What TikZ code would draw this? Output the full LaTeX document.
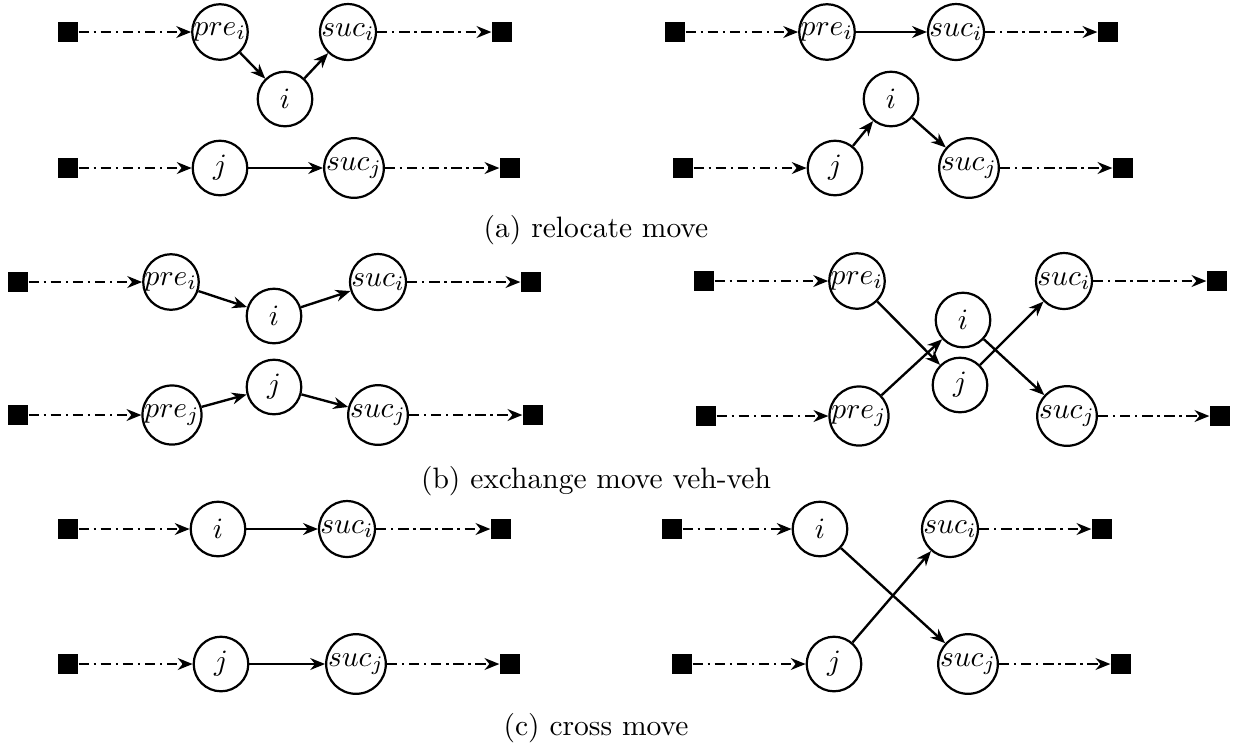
\documentclass[tikz,border=0pt]{standalone}
\usetikzlibrary{arrows.meta}
\begin{document}
\begin{tikzpicture}[x=0.339pt,y=-0.339pt,
  nd/.style={circle, draw, line width=0.75pt, minimum size=18.5pt, inner sep=0pt},
  sq/.style={rectangle, fill=black, minimum size=6.8pt, inner sep=0pt},
  tipstyle/.style={-{Stealth[length=5pt,width=4pt,inset=1.6pt]}},
  dd/.style={tipstyle, line width=0.8pt, dash pattern=on 3.5pt off 1.6pt on 0.8pt off 1.6pt},
  ar/.style={tipstyle, line width=0.8pt},
  captxt/.style={inner sep=0pt}]
\useasboundingbox (0,0) rectangle (1243,749);

% ---------- (a) left ----------
\node[sq] (aLs1) at (68,32) {};
\node[nd] (aLpi) at (220,32) {$pre_i$};
\node[nd] (aLi) at (285,99) {$i$};
\node[nd] (aLsi) at (348,32) {$suc_i$};
\node[sq] (aLt1) at (502,32) {};
\node[sq] (aLs2) at (68,168) {};
\node[nd] (aLj) at (220,168) {$j$};
\node[nd] (aLsj) at (354,168) {$suc_j$};
\node[sq] (aLt2) at (510,168) {};
\draw[dd] (aLs1) -- (aLpi);
\draw[ar] (aLpi) -- (aLi);
\draw[ar] (aLi) -- (aLsi);
\draw[dd] (aLsi) -- (aLt1);
\draw[dd] (aLs2) -- (aLj);
\draw[ar] (aLj) -- (aLsj);
\draw[dd] (aLsj) -- (aLt2);

% ---------- (a) right ----------
\node[sq] (aRs1) at (675,32) {};
\node[nd] (aRpi) at (827,32) {$pre_i$};
\node[nd] (aRsi) at (956,32) {$suc_i$};
\node[sq] (aRt1) at (1108,32) {};
\node[sq] (aRs2) at (683,168) {};
\node[nd] (aRj) at (835,168) {$j$};
\node[nd] (aRi) at (891,99) {$i$};
\node[nd] (aRsj) at (969,168) {$suc_j$};
\node[sq] (aRt2) at (1123,168) {};
\draw[dd] (aRs1) -- (aRpi);
\draw[ar] (aRpi) -- (aRsi);
\draw[dd] (aRsi) -- (aRt1);
\draw[dd] (aRs2) -- (aRj);
\draw[ar] (aRj) -- (aRi);
\draw[ar] (aRi) -- (aRsj);
\draw[dd] (aRsj) -- (aRt2);

\node[captxt] (capa) at (596,230) {(a) relocate move};

% ---------- (b) left ----------
\node[sq] (bLs1) at (18,282) {};
\node[nd] (bLpi) at (171,282) {$pre_i$};
\node[nd] (bLi) at (274,316) {$i$};
\node[nd] (bLsi) at (378,282) {$suc_i$};
\node[sq] (bLt1) at (531,282) {};
\node[sq] (bLs2) at (18,415) {};
\node[nd] (bLpj) at (172,415) {$pre_j$};
\node[nd] (bLj) at (274,387) {$j$};
\node[nd] (bLsj) at (378,415) {$suc_j$};
\node[sq] (bLt2) at (533,415) {};
\draw[dd] (bLs1) -- (bLpi);
\draw[ar] (bLpi) -- (bLi);
\draw[ar] (bLi) -- (bLsi);
\draw[dd] (bLsi) -- (bLt1);
\draw[dd] (bLs2) -- (bLpj);
\draw[ar] (bLpj) -- (bLj);
\draw[ar] (bLj) -- (bLsj);
\draw[dd] (bLsj) -- (bLt2);

% ---------- (b) right ----------
\node[sq] (bRs1) at (704,281) {};
\node[nd] (bRpi) at (857,281) {$pre_i$};
\node[nd] (bRi) at (963,320) {$i$};
\node[nd] (bRsi) at (1064,281) {$suc_i$};
\node[sq] (bRt1) at (1217,281) {};
\node[sq] (bRs2) at (706,416) {};
\node[nd] (bRpj) at (859,416) {$pre_j$};
\node[nd] (bRj) at (960,385) {$j$};
\node[nd] (bRsj) at (1067,416) {$suc_j$};
\node[sq] (bRt2) at (1220,416) {};
\draw[dd] (bRs1) -- (bRpi);
\draw[ar] (bRpi) -- (bRj);
\draw[ar] (bRpj) -- (bRi);
\draw[ar] (bRi) -- (bRsj);
\draw[ar] (bRj) -- (bRsi);
\draw[dd] (bRsi) -- (bRt1);
\draw[dd] (bRs2) -- (bRpj);
\draw[dd] (bRsj) -- (bRt2);

\node[captxt] (capb) at (596,481) {(b) exchange move veh-veh};

% ---------- (c) left ----------
\node[sq] (cLs1) at (68,529) {};
\node[nd] (cLi) at (218,529) {$i$};
\node[nd] (cLsi) at (347,529) {$suc_i$};
\node[sq] (cLt1) at (501,529) {};
\node[sq] (cLs2) at (68,664) {};
\node[nd] (cLj) at (221,664) {$j$};
\node[nd] (cLsj) at (356,664) {$suc_j$};
\node[sq] (cLt2) at (510,664) {};
\draw[dd] (cLs1) -- (cLi);
\draw[ar] (cLi) -- (cLsi);
\draw[dd] (cLsi) -- (cLt1);
\draw[dd] (cLs2) -- (cLj);
\draw[ar] (cLj) -- (cLsj);
\draw[dd] (cLsj) -- (cLt2);

% ---------- (c) right ----------
\node[sq] (cRs1) at (672,529) {};
\node[nd] (cRi) at (820,529) {$i$};
\node[nd] (cRsi) at (950,529) {$suc_i$};
\node[sq] (cRt1) at (1102,529) {};
\node[sq] (cRs2) at (682,664) {};
\node[nd] (cRj) at (834,664) {$j$};
\node[nd] (cRsj) at (968,664) {$suc_j$};
\node[sq] (cRt2) at (1121,664) {};
\draw[dd] (cRs1) -- (cRi);
\draw[ar] (cRi) -- (cRsj);
\draw[ar] (cRj) -- (cRsi);
\draw[dd] (cRsi) -- (cRt1);
\draw[dd] (cRs2) -- (cRj);
\draw[dd] (cRsj) -- (cRt2);

\node[captxt] (capc) at (596,728) {(c) cross move};
\end{tikzpicture}
\end{document}
